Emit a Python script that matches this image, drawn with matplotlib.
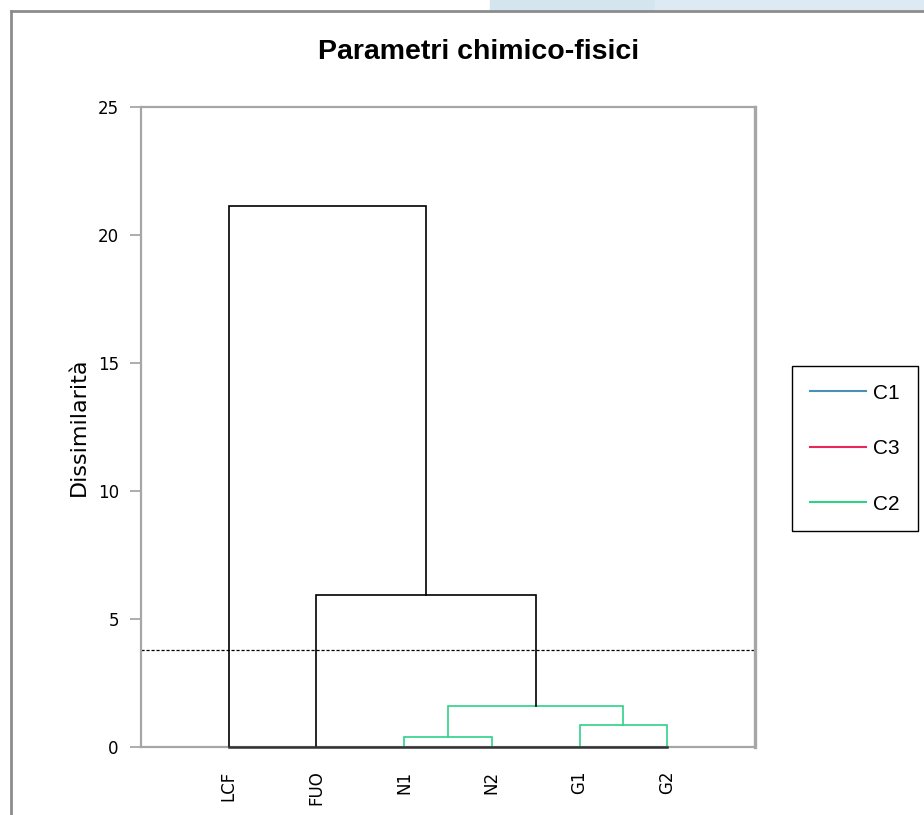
import matplotlib
matplotlib.use('Agg')
import matplotlib.pyplot as plt
from matplotlib.lines import Line2D
from matplotlib.patches import Rectangle

leaves = ['LCF', 'FUO', 'N1', 'N2', 'G1', 'G2']
# merges: (left node, right node, height, colour) - nodes 0..5 are leaves, 6.. are merges
merges = [
    (2, 3, 0.39, '#2fd28a'),
    (4, 5, 0.86, '#2fd28a'),
    (6, 7, 1.60, '#2fd28a'),
    (1, 8, 5.94, 'black'),
    (0, 9, 21.13, 'black'),
]
threshold = 3.79
legend_names = ['C1', 'C3', 'C2']
legend_colors = ['#4a8fb8', '#e8285a', '#2fd28a']

W, H = 924, 815
fig = plt.figure(figsize=(W / 100, H / 100), dpi=100)

# screenshot frame bits
fig.add_artist(Rectangle((490 / W, 1 - 10 / H), 165 / W, 10 / H, color='#d5e5f0', transform=fig.transFigure))
fig.add_artist(Rectangle((655 / W, 1 - 10 / H), 269 / W, 10 / H, color='#dde9f3', transform=fig.transFigure))
fig.add_artist(Line2D([11 / W, 1], [1 - 11 / H, 1 - 11 / H], color='#8c8c8c', lw=2, transform=fig.transFigure))
fig.add_artist(Line2D([11 / W, 11 / W], [0, 1 - 11 / H], color='#8c8c8c', lw=2, transform=fig.transFigure))

ax = fig.add_axes([141 / W, 1 - 747 / H, 614 / W, 640 / H])

xpos = {i: i + 1 for i in range(len(leaves))}
ypos = {i: 0.0 for i in range(len(leaves))}
for k, (a, b, h, c) in enumerate(merges):
    xa, xb = xpos[a], xpos[b]
    ax.plot([xa, xa, xb, xb], [ypos[a], h, h, ypos[b]], color=c, lw=1.2, solid_joinstyle='miter', zorder=3)
    node = len(leaves) + k
    xpos[node] = (xa + xb) / 2
    ypos[node] = h

# base line under the leaves
ax.plot([1, len(leaves)], [0, 0], color='#333333', lw=1.8, zorder=5, clip_on=False)
ax.axhline(threshold, color='black', lw=0.9, ls=(0, (2.5, 1.5)), zorder=2)

ax.set_xlim(0, len(leaves) + 1)
ax.set_ylim(0, 25)
ax.set_yticks([0, 5, 10, 15, 20, 25])
ax.set_xticks(range(1, len(leaves) + 1))
ax.set_xticklabels(leaves, rotation=90, fontsize=12, fontfamily='DejaVu Sans')
ax.tick_params(axis='x', length=0, pad=17)
ax.tick_params(axis='y', length=8, width=1.2, color='#a0a0a0', labelsize=12, pad=8)
for s in ax.spines.values():
    s.set_color('#a6a6a6')
    s.set_linewidth(1.6)
ax.spines['right'].set_linewidth(2.4)
ax.set_ylabel('Dissimilarità', fontsize=16, fontfamily='DejaVu Sans', labelpad=6)

fig.text(479 / W, 1 - 52 / H, 'Parametri chimico-fisici', ha='center', va='center',
         fontsize=20.5, fontweight='bold', fontfamily='Liberation Sans')

handles = [Line2D([], [], color=c, lw=1.5) for c in legend_colors]
leg = fig.legend(handles, legend_names, loc='upper left', bbox_to_anchor=(792 / W, 1 - 366 / H),
                 borderaxespad=0, fancybox=False, edgecolor='black', framealpha=1,
                 handlelength=2.7, labelspacing=1.75, borderpad=0.85, handletextpad=0.35,
                 prop={'family': 'Liberation Sans', 'size': 15})
leg.get_frame().set_linewidth(1.0)

fig.savefig('out.png', dpi=100)
